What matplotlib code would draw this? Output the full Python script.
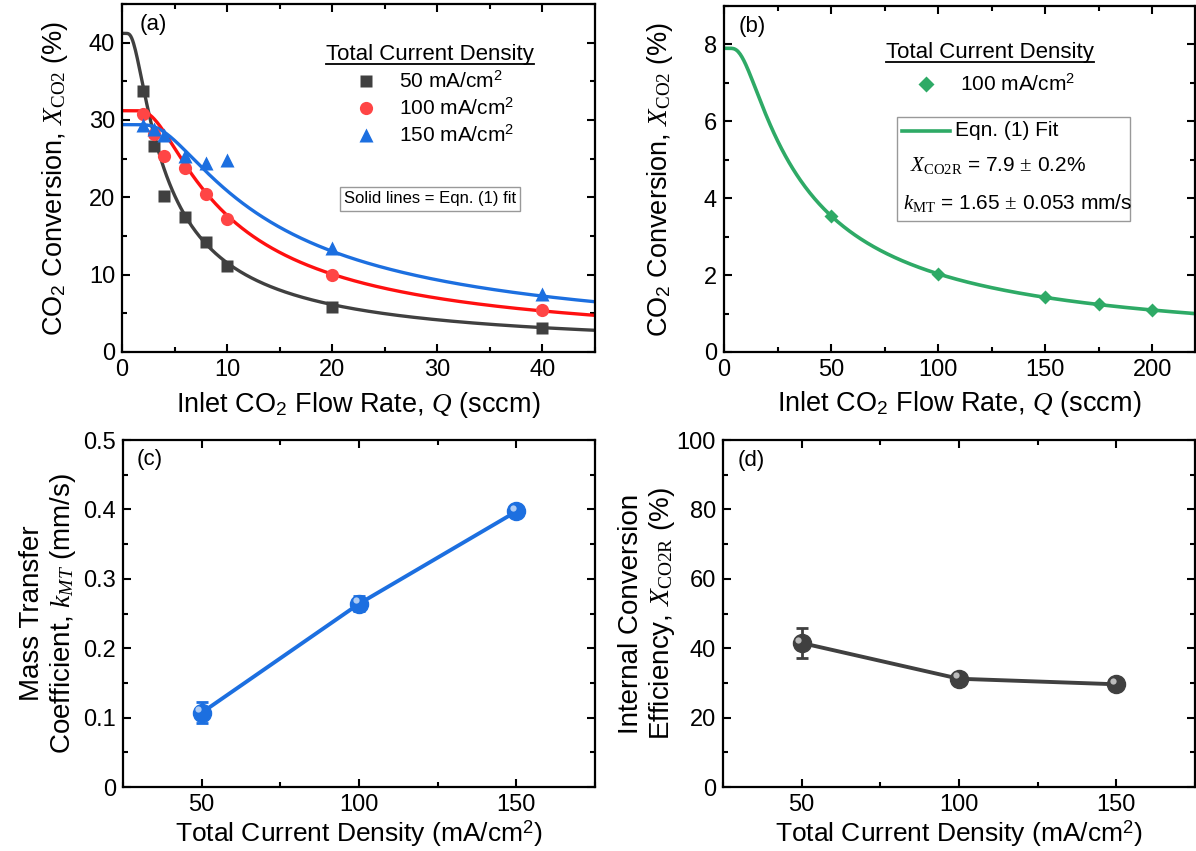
import numpy as np
import matplotlib.pyplot as plt
import matplotlib.transforms as mtransforms
from matplotlib.ticker import MultipleLocator
from matplotlib.lines import Line2D
from matplotlib.patches import Rectangle

plt.rcParams['font.family'] = ['Liberation Sans', 'DejaVu Sans']
plt.rcParams['mathtext.fontset'] = 'custom'
plt.rcParams['mathtext.rm'] = 'Liberation Serif'
plt.rcParams['mathtext.it'] = 'Liberation Serif:italic'
plt.rcParams['mathtext.sf'] = 'Liberation Sans'
plt.rcParams['axes.linewidth'] = 1.6

# (a) conversion vs inlet flow rate, three current densities
flow_a = [2, 3, 4, 6, 8, 10, 20, 40]
conv_50 = [33.8, 26.7, 20.2, 17.5, 14.2, 11.1, 5.8, 3.1]
conv_100 = [30.8, 28.2, 25.4, 23.8, 20.4, 17.2, 10.0, 5.4]
conv_150 = [29.4, 28.9, 28.0, 25.3, 24.5, 24.8, 13.5, 7.5]
# Eqn. (1) fit parameters: plateau (%), rate term (sccm), knee shape
fit_plateau_a = [41.2, 31.2, 29.4]
fit_rate_a = [3.13, 7.05, 10.7]
fit_shape_a = [1.15, 1.35, 1.2]

# (b) 100 mA/cm2, extended flow range
flow_b = [50, 100, 150, 175, 200]
conv_b = [3.54, 2.03, 1.42, 1.25, 1.09]
fit_plateau_b = 7.9
fit_rate_b = 29.75
fit_shape_b = 1.0

# (c), (d) fitted parameters vs current density
current = [50, 100, 150]
k_mt = [0.107, 0.264, 0.397]
k_mt_err = [0.015, 0.011, 0.005]
x_co2r = [41.5, 31.2, 29.6]
x_co2r_err = [4.4, 1.5, 1.0]

labels_a = ['50 mA/cm$^\\mathsf{2}$', '100 mA/cm$^\\mathsf{2}$', '150 mA/cm$^\\mathsf{2}$']

BLACK = '#404040'
RED_LINE = '#ff1010'
RED_MK = '#ff4545'
BLUE = '#1c6fe0'
GREEN = '#2eaa66'


def eqn1(q, plateau, rate, shape):
    u = rate / q
    return plateau * (1 - np.exp(-u ** shape)) ** (1 / shape)


W, H = 1196, 851
fig = plt.figure(figsize=(W / 100, H / 100), dpi=100)


def px_axes(l, t, r, b):
    return fig.add_axes([l / W, 1 - b / H, (r - l) / W, (b - t) / H])


ax_a = px_axes(122, 4, 595, 352)
ax_b = px_axes(724, 6, 1195, 352)
ax_c = px_axes(123, 440, 595, 787)
ax_d = px_axes(723, 440, 1195, 787)


def style(ax, xmaj, xmin, ymaj, ymin):
    ax.xaxis.set_major_locator(MultipleLocator(xmaj))
    ax.xaxis.set_minor_locator(MultipleLocator(xmin))
    ax.yaxis.set_major_locator(MultipleLocator(ymaj))
    ax.yaxis.set_minor_locator(MultipleLocator(ymin))
    ax.tick_params(which='both', direction='in', top=True, right=True,
                   labeltop=False, labelright=False, width=1.5, labelsize=17)
    ax.tick_params(which='major', length=6, pad=5)
    ax.tick_params(which='minor', length=3.5)


# ---- (a)
q = np.linspace(0.2, 45, 500)
cols = [BLACK, RED_LINE, BLUE]
mk_cols = [BLACK, RED_MK, BLUE]
markers = ['s', 'o', '^']
msizes = [8, 9.5, 10]
for i, ys in enumerate([conv_50, conv_100, conv_150]):
    ax_a.plot(q, eqn1(q, fit_plateau_a[i], fit_rate_a[i], fit_shape_a[i]),
              color=cols[i], lw=2.4, zorder=2)
    ax_a.plot(flow_a, ys, markers[i], color=mk_cols[i], ms=msizes[i],
              mec='none', zorder=3)
ax_a.set_xlim(0, 45)
ax_a.set_ylim(0, 45)
style(ax_a, 10, 5, 10, 5)
ax_a.set_xlabel('Inlet CO$_\\mathsf{2}$ Flow Rate, $Q$ (sccm)', fontsize=19.5)
ax_a.set_ylabel('CO$_\\mathsf{2}$ Conversion, $X_{\\mathrm{CO2}}$ (%)', fontsize=19.5)
ax_a.xaxis.set_label_coords(0.5, -0.108)
ax_a.yaxis.set_label_coords(-0.11, 0.5)
ax_a.text(0.038, 0.94, '(a)', transform=ax_a.transAxes, fontsize=16, va='center')

handles_a = [Line2D([], [], ls='none', marker=markers[i], color=mk_cols[i],
                    ms=msizes[i], mec='none') for i in range(3)]
leg_a = ax_a.legend(handles_a, labels_a, loc='upper center',
                    bbox_to_anchor=(0.651, 0.915), frameon=False, fontsize=15,
                    title='Total Current Density', title_fontsize=16,
                    handletextpad=0.6, labelspacing=0.28, borderpad=0,
                    handlelength=2.0)
ax_a.text(0.651, 0.44, 'Solid lines = Eqn. (1) fit', transform=ax_a.transAxes,
          fontsize=12, ha='center', va='center',
          bbox=dict(boxstyle='square,pad=0.25', fc='white', ec='#999999', lw=1))

# ---- (b)
qb = np.linspace(0.5, 220, 500)
ax_b.plot(qb, eqn1(qb, fit_plateau_b, fit_rate_b, fit_shape_b), color=GREEN,
          lw=2.6, zorder=2)
ax_b.plot(flow_b, conv_b, 'D', color=GREEN, ms=7.5, mec='none', zorder=3)
ax_b.set_xlim(0, 220)
ax_b.set_ylim(0, 9)
style(ax_b, 50, 25, 2, 1)
ax_b.set_xlabel('Inlet CO$_\\mathsf{2}$ Flow Rate, $Q$ (sccm)', fontsize=19.5)
ax_b.set_ylabel('CO$_\\mathsf{2}$ Conversion, $X_{\\mathrm{CO2}}$ (%)', fontsize=19.5)
ax_b.xaxis.set_label_coords(0.5, -0.108)
ax_b.yaxis.set_label_coords(-0.105, 0.5)
ax_b.text(0.03, 0.94, '(b)', transform=ax_b.transAxes, fontsize=16, va='center')

leg_b = ax_b.legend([Line2D([], [], ls='none', marker='D', color=GREEN, ms=8, mec='none')],
                    ['100 mA/cm$^\\mathsf{2}$'], loc='upper center',
                    bbox_to_anchor=(0.565, 0.925), frameon=False, fontsize=15,
                    title='Total Current Density', title_fontsize=16,
                    handletextpad=0.6, borderpad=0, handlelength=2.0)

ax_b.add_patch(Rectangle((0.367, 0.379), 0.495, 0.300, transform=ax_b.transAxes,
                         fill=False, ec='#999999', lw=1))
ax_b.add_line(Line2D([0.378, 0.48], [0.639, 0.639], transform=ax_b.transAxes,
                     color=GREEN, lw=2.6))
ax_b.text(0.49, 0.639, 'Eqn. (1) Fit', transform=ax_b.transAxes, fontsize=15, va='center')
ax_b.text(0.395, 0.54, '$X_{\\mathrm{CO2R}}$ = 7.9 $\\pm$ 0.2%', transform=ax_b.transAxes,
          fontsize=15, va='center')
ax_b.text(0.38, 0.43, '$k_{\\mathrm{MT}}$ = 1.65 $\\pm$ 0.053 mm/s', transform=ax_b.transAxes,
          fontsize=15, va='center')


# ---- (c), (d)
def ball_series(ax, x, y, err, color):
    ax.errorbar(x, y, yerr=err, fmt='-o', color=color, lw=2.8, ms=13,
                mec=color, ecolor=color, elinewidth=2, capsize=4, capthick=2,
                zorder=3)
    shift = mtransforms.ScaledTranslation(-2.5 / 72, 2.5 / 72, fig.dpi_scale_trans)
    ax.plot(x, y, 'o', ms=4.5, color='white', alpha=0.65, mec='none',
            transform=ax.transData + shift, zorder=4)


ball_series(ax_c, current, k_mt, k_mt_err, BLUE)
ax_c.set_xlim(25, 175)
ax_c.set_ylim(0, 0.5)
style(ax_c, 50, 25, 0.1, 0.05)
ax_c.set_yticks([0, 0.1, 0.2, 0.3, 0.4, 0.5])
ax_c.set_yticklabels(['0', '0.1', '0.2', '0.3', '0.4', '0.5'])
ax_c.set_xlabel('Total Current Density (mA/cm$^\\mathsf{2}$)', fontsize=19)
ax_c.set_ylabel('Mass Transfer\nCoefficient, $k_{MT}$ (mm/s)', fontsize=20,
                linespacing=1.15)
ax_c.xaxis.set_label_coords(0.5, -0.09)
ax_c.yaxis.set_label_coords(-0.095, 0.5)
ax_c.text(0.028, 0.945, '(c)', transform=ax_c.transAxes, fontsize=16, va='center')

ball_series(ax_d, current, x_co2r, x_co2r_err, BLACK)
ax_d.set_xlim(25, 175)
ax_d.set_ylim(0, 100)
style(ax_d, 50, 25, 20, 10)
ax_d.set_xlabel('Total Current Density (mA/cm$^\\mathsf{2}$)', fontsize=19)
ax_d.set_ylabel('Internal Conversion\nEfficiency, $X_{\\mathrm{CO2R}}$ (%)', fontsize=20,
                linespacing=1.15)
ax_d.xaxis.set_label_coords(0.5, -0.09)
ax_d.yaxis.set_label_coords(-0.097, 0.5)
ax_d.text(0.03, 0.942, '(d)', transform=ax_d.transAxes, fontsize=16, va='center')

# underline the legend titles
fig.canvas.draw()
for leg in (leg_a, leg_b):
    bb = leg.get_title().get_window_extent()
    y = bb.y0 + 1
    fig.add_artist(Line2D([bb.x0 / W, bb.x1 / W], [y / H, y / H],
                          transform=fig.transFigure, color='black', lw=1.3))

fig.savefig('out.png', dpi=100)
